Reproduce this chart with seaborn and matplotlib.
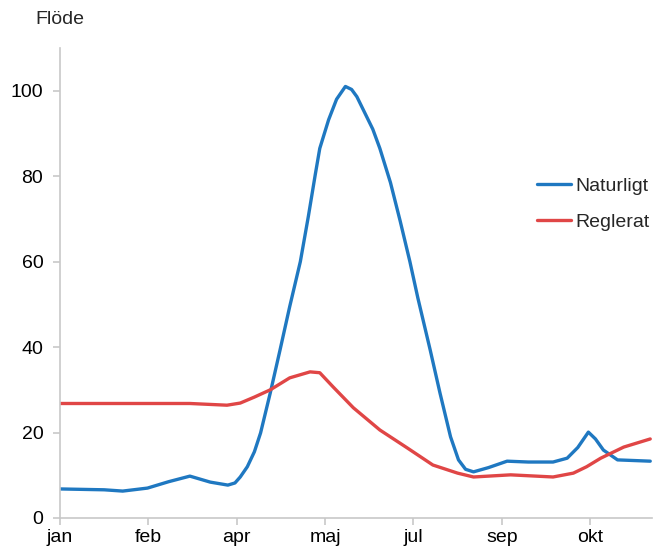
import numpy as np
import pandas as pd
import matplotlib
matplotlib.use('Agg')
import matplotlib.pyplot as plt
import seaborn as sns

# x in tick units: jan=0, feb=1, apr=2, maj=3, jul=4, sep=5, okt=6
tick_labels = ['jan', 'feb', 'apr', 'maj', 'jul', 'sep', 'okt']

nat_x = [0.00, 0.50, 0.71, 0.99, 1.23, 1.47, 1.70, 1.90, 1.98, 2.04, 2.12, 2.20, 2.27, 2.38,
         2.49, 2.60, 2.72, 2.81, 2.89, 2.94, 3.04, 3.13, 3.23, 3.30, 3.36, 3.54, 3.62,
         3.74, 3.85, 3.96, 4.05, 4.19, 4.30, 4.42, 4.51, 4.59, 4.68, 4.85, 5.06, 5.30, 5.58,
         5.74, 5.86, 5.98, 6.06, 6.15, 6.31, 6.68]
nat_y = [6.8, 6.6, 6.3, 7.0, 8.5, 9.8, 8.4, 7.7, 8.2, 9.6, 12.0, 15.5, 19.9, 29.3,
         39.3, 49.5, 60.0, 70.5, 80.5, 86.5, 93.2, 98.0, 101.0, 100.3, 98.6, 91.0, 86.5,
         78.5, 69.5, 60.0, 51.5, 39.3, 29.3, 19.0, 13.6, 11.4, 10.8, 11.8, 13.3, 13.1, 13.1,
         14.0, 16.5, 20.1, 18.5, 15.9, 13.6, 13.3]

reg_x = [0.00, 1.47, 1.89, 2.04, 2.20, 2.38, 2.60, 2.83, 2.94, 3.09, 3.32, 3.62, 3.93,
         4.22, 4.50, 4.68, 5.10, 5.58, 5.81, 5.96, 6.12, 6.38, 6.68]
reg_y = [26.8, 26.8, 26.4, 26.9, 28.3, 30.0, 32.8, 34.2, 34.0, 30.7, 25.8, 20.6, 16.4,
         12.4, 10.5, 9.6, 10.1, 9.6, 10.5, 12.0, 14.0, 16.6, 18.5]

df = pd.concat([
    pd.DataFrame({'x': nat_x, 'y': nat_y, 'serie': 'Naturligt'}),
    pd.DataFrame({'x': reg_x, 'y': reg_y, 'serie': 'Reglerat'}),
])

sns.set_theme(style='white')
plt.rcParams['font.family'] = ['Liberation Sans', 'DejaVu Sans']

fig = plt.figure(figsize=(6.69, 5.51), dpi=100)
ax = fig.add_axes([60/669, 33/551, 592/669, 470/551])

sns.lineplot(data=df, x='x', y='y', hue='serie', sort=False,
             palette={'Naturligt': '#1f78c1', 'Reglerat': '#e04646'},
             linewidth=2.4, ax=ax)
for ln in ax.lines:
    ln.set_solid_joinstyle('round')

ax.set_xlim(0, 6.7)
ax.set_ylim(0, 110)
ax.set_xticks(range(len(tick_labels)))
ax.set_xticklabels(tick_labels)
ax.set_yticks([0, 20, 40, 60, 80, 100])
ax.set_xlabel('')
ax.set_ylabel('')

for s in ['top', 'right']:
    ax.spines[s].set_visible(False)
for s in ['left', 'bottom']:
    ax.spines[s].set_color('#c8c8c8')
    ax.spines[s].set_linewidth(1.2)
ax.tick_params(axis='both', which='major', length=5, width=1.2, color='#c8c8c8',
               labelsize=14, labelcolor='black', direction='out', bottom=True, left=True)
ax.tick_params(axis='y', pad=7)
ax.tick_params(axis='x', pad=3)

handles, labels = ax.get_legend_handles_labels()
ax.legend(handles, labels, loc='upper left', bbox_to_anchor=(537/669, 1 - 177/551),
          bbox_transform=fig.transFigure, frameon=False, fontsize=14,
          handlelength=1.75, handletextpad=0.2, labelspacing=0.95,
          borderpad=0, borderaxespad=0)

fig.text(35/669, 1 - 20/551, 'Flöde', fontsize=14, va='center', ha='left')

fig.savefig('out.png', dpi=100)
